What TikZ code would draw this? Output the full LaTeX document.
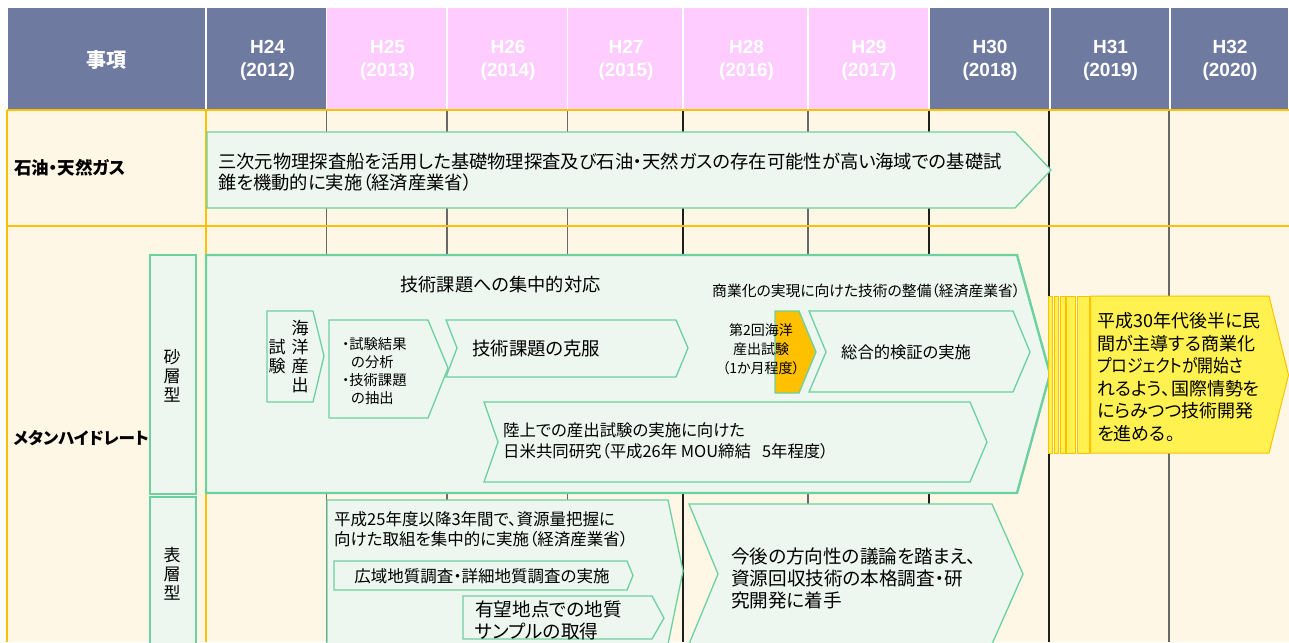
\documentclass[tikz,border=0pt]{standalone}
\usepackage{fontspec}
\setmainfont{Liberation Sans}
\newfontfamily\jp[RawFeature=+palt]{Noto Sans CJK JP}
\newcommand\jfs[2]{\fontsize{#1}{#2}\selectfont}
\definecolor{slate}{RGB}{111,122,160}
\definecolor{pinkh}{RGB}{255,204,255}
\definecolor{cream}{RGB}{255,247,229}
\definecolor{orangeL}{RGB}{255,192,0}
\definecolor{greenB}{RGB}{108,208,160}
\definecolor{mint}{RGB}{237,247,240}
\definecolor{gridg}{RGB}{105,105,105}
\definecolor{gridk}{RGB}{30,30,30}
\definecolor{yel}{RGB}{255,242,80}
\begin{document}
\begin{tikzpicture}[x=1pt,y=-1pt,
  hdr/.style={draw=white, line width=1.5pt, minimum height=103pt, inner sep=0pt},
  hdrtxt/.style={inner sep=0pt, text=white, align=center, font=\bfseries\jfs{19}{23}},
  orangeline/.style={draw=orangeL, line width=1.8pt},
  gridline/.style={draw=gridg, line width=1.1pt},
  gridlinek/.style={draw=gridk, line width=1.1pt},
  abox/.style={draw=greenB, fill=mint, line width=1.3pt, line join=miter},
  bigbox/.style={draw=greenB, fill=mint, line width=2.4pt, line join=miter},
  ybox/.style={draw=orangeL, fill=yel, line width=1pt},
  txt/.style={inner sep=0pt, text=black}
]
\useasboundingbox (0,0) rectangle (1289,642);
\clip (0,0) rectangle (1289,642);
\fill[white] (0,0) rectangle (1289,642);

% header cells
\node[hdr, fill=slate, minimum width=199pt] (hItem) at (106.5,58.5) {};
\node[hdr, fill=slate, minimum width=120.5pt] (h24) at (266.25,58.5) {};
\node[hdr, fill=pinkh, minimum width=120.5pt] (h25) at (386.75,58.5) {};
\node[hdr, fill=pinkh, minimum width=120.5pt] (h26) at (507.25,58.5) {};
\node[hdr, fill=pinkh, minimum width=115.5pt] (h27) at (625.25,58.5) {};
\node[hdr, fill=pinkh, minimum width=125pt] (h28) at (745.5,58.5) {};
\node[hdr, fill=pinkh, minimum width=121pt] (h29) at (868.5,58.5) {};
\node[hdr, fill=slate, minimum width=121pt] (h30) at (989.5,58.5) {};
\node[hdr, fill=slate, minimum width=120pt] (h31) at (1110,58.5) {};
\node[hdr, fill=slate, minimum width=119pt] (h32) at (1229.5,58.5) {};
% header texts
\node[hdrtxt, font=\jp\bfseries\jfs{20}{24}] (tItem) at (106.5,60) {事項};
\node[hdrtxt] (t24) at (267.5,60.5) {H24\\(2012)};
\node[hdrtxt] (t25) at (387.5,60.5) {H25\\(2013)};
\node[hdrtxt] (t26) at (508,60.5) {H26\\(2014)};
\node[hdrtxt] (t27) at (626,60.5) {H27\\(2015)};
\node[hdrtxt] (t28) at (746.5,60.5) {H28\\(2016)};
\node[hdrtxt] (t29) at (869,60.5) {H29\\(2017)};
\node[hdrtxt] (t30) at (990,60.5) {H30\\(2018)};
\node[hdrtxt] (t31) at (1110.5,60.5) {H31\\(2019)};
\node[hdrtxt] (t32) at (1230,60.5) {H32\\(2020)};

% body
\fill[cream] (7,110) rectangle (1289,642);
\foreach \gx in {326.5,447,567.5,808,1169}{\draw[gridline] (\gx,110) -- (\gx,642);}
\foreach \gx in {683,929,1049}{\draw[gridlinek] (\gx,110) -- (\gx,642);}
\draw[orangeline] (7,110) -- (1289,110);
\draw[orangeline] (7,226) -- (1289,226);
\draw[orangeline] (7,110) -- (7,642);
\draw[orangeline] (206,110) -- (206,642);

% row labels
\node[txt, anchor=west, font=\jp\bfseries\jfs{17.5}{20}] (oilLab) at (14,168) {石油・天然ガス};
\node[txt, anchor=west, font=\jp\bfseries\jfs{16.6}{19}] (mhLab) at (13,438) {メタンハイドレート};
\draw[abox] (150,255) rectangle (196,494);
\node[txt, align=center, font=\jp\jfs{17}{19}] (sand) at (172,376) {砂\\層\\型};
\draw[abox] (150,497) rectangle (196,660);
\node[txt, align=center, font=\jp\jfs{17}{19}] (surf) at (172,574) {表\\層\\型};

% row 1 arrow
\draw[abox] (207,132) -- (1015,132) -- (1051,170) -- (1015,208) -- (207,208) -- cycle;
\node[txt, anchor=west, align=left, font=\jp\jfs{18.3}{20.5}] (oilTxt) at (218,172) {三次元物理探査船を活用した基礎物理探査及び石油・天然ガスの存在可能性が高い海域での基礎試\\錐を機動的に実施（経済産業省）};

% row 2 big arrow
\draw[bigbox] (206,255) -- (1017,255) -- (1050,374) -- (1017,493) -- (206,493) -- cycle;
\node[txt, font=\jp\jfs{18.2}{21}] (focus) at (500.5,285) {技術課題への集中的対応};
\node[txt, anchor=west, font=\jp\jfs{14.8}{17}] (commer) at (712,291) {商業化の実現に向けた技術の整備（経済産業省）};

\draw[abox] (267,311) -- (313,311) -- (324,356) -- (313,402) -- (267,402) -- cycle;
\node[txt, align=center, font=\jp\jfs{17}{19}] (kaiyo) at (300,356.5) {海\\洋\\産\\出};
\node[txt, align=center, font=\jp\jfs{17}{19}] (shiken) at (277,357) {試\\験};

\draw[abox] (329,320) -- (428,320) -- (448,368) -- (428,418) -- (329,418) -- cycle;
\node[txt, anchor=west, align=left, font=\jp\jfs{14.3}{18}] (analysis) at (342,371.5) {・試験結果\\\hspace*{9pt}の分析\\・技術課題\\\hspace*{9pt}の抽出};

\draw[abox] (446,320) -- (676,320) -- (688,348) -- (676,377) -- (446,377) -- (457,348) -- cycle;
\node[txt, anchor=west, font=\jp\jfs{18.4}{21}] (overcome) at (472,349) {技術課題の克服};

\draw[draw=greenB, fill=orangeL, line width=1.3pt] (775,311) -- (799,311) -- (816,352) -- (799,393) -- (775,393) -- cycle;
\node[txt, align=center, font=\jp\jfs{14}{19}] (second) at (761,349) {第2回海洋\\産出試験\\（1か月程度）};

\draw[abox] (809,311) -- (1013,311) -- (1030,352) -- (1013,392) -- (809,392) -- (826,352) -- cycle;
\node[txt, anchor=west, font=\jp\jfs{16.3}{19}] (verify) at (841,352) {総合的検証の実施};

\draw[abox] (484,402) -- (970,402) -- (987,442) -- (970,482) -- (484,482) -- (498,442) -- cycle;
\node[txt, anchor=west, align=left, font=\jp\jfs{16.4}{21.5}] (onshore) at (503,441) {陸上での産出試験の実施に向けた\\日米共同研究（平成26年 MOU締結\ \ \ 5年程度）};

% yellow striped arrow
\draw[ybox] (1048,296) rectangle (1052.5,453);
\draw[ybox] (1054,296) rectangle (1058.5,453);
\draw[ybox] (1060,296) rectangle (1065,453);
\draw[ybox] (1066.5,296) rectangle (1075.5,453);
\draw[ybox] (1077,296) rectangle (1089,453);
\draw[ybox] (1090.5,296) -- (1269,296) -- (1288.5,375) -- (1269,453) -- (1090.5,453) -- cycle;
\node[txt, anchor=west, align=left, font=\jp\jfs{18}{22.5}] (future) at (1097,377) {平成30年代後半に民\\間が主導する商業化\\\scalebox{0.88}[1]{プロジェクトが開始さ}\\れるよう、国際情勢を\\にらみつつ技術開発\\を進める。};

% surface type
\draw[abox] (327,500) -- (668,500) -- (683,571) -- (668,644) -- (327,644) -- cycle;
\node[txt, anchor=west, align=left, font=\jp\jfs{16.5}{20}] (resource) at (334,529) {平成25年度以降3年間で、資源量把握に\\向けた取組を集中的に実施（経済産業省）};
\draw[abox] (334,561) -- (627,561) -- (633,575.5) -- (627,590) -- (334,590) -- cycle;
\node[txt, font=\jp\jfs{16.5}{19}] (survey) at (482,576) {広域地質調査・詳細地質調査の実施};
\draw[abox] (463,596) -- (652,596) -- (664,618) -- (652,639) -- (463,639) -- cycle;
\node[txt, anchor=west, align=left, font=\jp\jfs{18.6}{22}] (sample) at (475,620) {有望地点での地質\\サンプルの取得};

\draw[abox] (689,504) -- (992,504) -- (1023,574) -- (992,644) -- (689,644) -- (718,574) -- cycle;
\node[txt, anchor=west, align=left, font=\jp\jfs{18.6}{22}] (next) at (731,578) {今後の方向性の議論を踏まえ、\\資源回収技術の本格調査・研\\究開発に着手};
\end{tikzpicture}
\end{document}
